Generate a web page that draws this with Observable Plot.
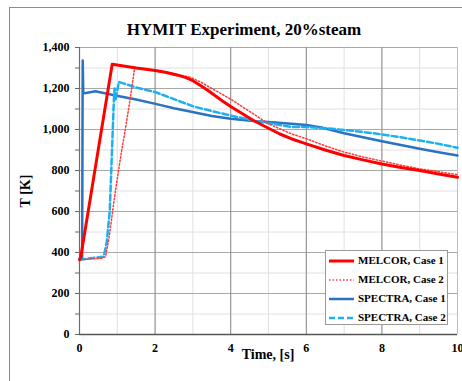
<!DOCTYPE html>
<html>
<head>
<meta charset="utf-8">
<script src="https://cdn.jsdelivr.net/npm/d3@7"></script>
<script src="https://cdn.jsdelivr.net/npm/@observablehq/plot@0.6"></script>
<style>
  html, body { margin: 0; padding: 0; background: #fff; }
  #wrap { position: relative; width: 462px; height: 381px; overflow: hidden; font-family: "Liberation Serif", "Times New Roman", serif; font-weight: bold; color: #000; }
  #frame { position: absolute; left: 9px; top: 7px; width: 470px; height: 400px; border: 1px solid #8c8c8c; box-sizing: border-box; }
  #title { position: absolute; left: 0; width: 488px; top: 20px; text-align: center; font-size: 17px; }
  #xlabel { position: absolute; left: 168px; width: 200px; text-align: center; top: 347px; font-size: 14px; white-space: nowrap; }
  #legend { position: absolute; left: 325px; top: 250px; width: 123px; height: 75px; border: 1px solid #9a9a9a; background: #fff; box-sizing: border-box; }
  .row { position: absolute; left: 3px; height: 14px; font-size: 11px; line-height: 14px; white-space: nowrap; }
  .row svg { vertical-align: middle; margin-right: 4px; }
  #plot { position: absolute; left: 0; top: 0; }
</style>
</head>
<body>
<div id="wrap">
  <div id="frame"></div>
  <div id="plot"></div>
  <div id="title">HYMIT Experiment, 20%steam</div>
  <div id="xlabel">Time, [s]</div>
  <div id="legend"></div>
</div>
<script>
// Tick values
const xTicks = [0, 2, 4, 6, 8, 10];
const xMinor = [0, 1, 2, 3, 4, 5, 6, 7, 8, 9, 10];
const yTicks = [0, 200, 400, 600, 800, 1000, 1200, 1400];
const yMinor = [0, 100, 200, 300, 400, 500, 600, 700, 800, 900, 1000, 1100, 1200, 1300, 1400];

// Series names
const seriesNames = ["MELCOR, Case 1", "MELCOR, Case 2", "SPECTRA, Case 1", "SPECTRA, Case 2"];

// MELCOR, Case 1
const melcor1Time = [0, 0.03, 0.865, 1.5, 2.0, 2.3, 2.6, 2.8, 3.0, 3.2, 3.4, 3.6, 3.8, 4.0, 4.3, 4.6, 5.0, 5.3, 5.6, 6.0, 6.5, 7.0, 7.5, 8.0, 8.5, 9.0, 9.5, 10];
const melcor1Temp = [365, 375, 1318, 1300, 1288, 1278, 1265, 1254, 1238, 1215, 1190, 1163, 1137, 1112, 1078, 1044, 1006, 978, 955, 930, 900, 873, 852, 832, 815, 800, 783, 767];

// MELCOR, Case 2
const melcor2Time = [0, 0.3, 0.6, 0.69, 0.78, 0.95, 1.1, 1.22, 1.35, 1.46, 2.0, 2.5, 2.93, 3.2, 3.5, 4.0, 4.6, 5.0, 5.6, 6.0, 6.5, 7.0, 7.5, 8.0, 8.5, 9.0, 9.5, 10];
const melcor2Temp = [365, 368, 372, 380, 470, 700, 880, 1010, 1160, 1304, 1290, 1272, 1255, 1232, 1200, 1148, 1076, 1028, 979, 955, 920, 890, 866, 846, 826, 808, 794, 780];

// SPECTRA, Case 1
const spectra1Time = [0, 0.07, 0.085, 0.1, 0.14, 0.42, 0.95, 1.5, 2.01, 2.5, 3.02, 3.5, 4.0, 4.6, 5.0, 5.6, 6.0, 6.4, 7.0, 7.5, 8.0, 8.5, 9.0, 9.5, 10];
const spectra1Temp = [368, 370, 1337, 1180, 1177, 1187, 1166, 1146, 1125, 1104, 1084, 1066, 1052, 1041, 1036, 1028, 1022, 1010, 982, 962, 943, 924, 906, 889, 873];

// SPECTRA, Case 2
const spectra2Time = [0, 0.3, 0.64, 0.72, 0.8, 0.86, 0.91, 0.93, 0.95, 1.0, 1.04, 1.5, 2.01, 2.5, 3.02, 3.5, 4.0, 4.6, 5.0, 5.6, 6.0, 6.5, 7.0, 7.5, 8.0, 8.5, 9.0, 9.5, 10];
const spectra2Temp = [365, 372, 380, 450, 600, 898, 1150, 1200, 1140, 1190, 1232, 1205, 1182, 1148, 1112, 1090, 1068, 1044, 1031, 1012, 1012, 1006, 998, 988, 976, 962, 946, 930, 911];

const styles = [
  {stroke: "#ff0000", strokeWidth: 3, dash: null},
  {stroke: "#ff3a3a", strokeWidth: 1.5, dash: "1.5,2"},
  {stroke: "#2a72c2", strokeWidth: 2.5, dash: null},
  {stroke: "#1cb0ef", strokeWidth: 2.5, dash: "6,3"}
];

const series = [
  [melcor1Time, melcor1Temp],
  [melcor2Time, melcor2Temp],
  [spectra1Time, spectra1Temp],
  [spectra2Time, spectra2Temp]
];

function lineMark(k) {
  const [t, T] = series[k];
  const s = styles[k];
  return Plot.line(t.map((x, i) => ({x, y: T[i]})), {
    x: "x", y: "y", stroke: s.stroke, strokeWidth: s.strokeWidth,
    strokeDasharray: s.dash, curve: "linear", strokeLinejoin: "round"
  });
}

const chart = Plot.plot({
  width: 462,
  height: 381,
  marginLeft: 79,
  marginRight: 5,
  marginTop: 47,
  marginBottom: 47,
  style: {fontFamily: '"Liberation Serif", "Times New Roman", serif', fontWeight: "bold", fontSize: "12px", background: "transparent", overflow: "visible"},
  x: {domain: [0, 10]},
  y: {domain: [0, 1400]},
  marks: [
    Plot.gridY(yMinor, {stroke: "#e0e0e0", strokeOpacity: 1}),
    Plot.gridX(xMinor, {stroke: "#e0e0e0", strokeOpacity: 1}),
    Plot.gridY(yTicks, {stroke: "#a8a8a8", strokeOpacity: 1}),
    Plot.gridX(xTicks, {stroke: "#8a8a8a", strokeOpacity: 1}),
    Plot.ruleX([10], {stroke: "#bdbdbd"}),
    Plot.axisY(yMinor, {tickSize: 4, tickFormat: () => "", stroke: "#666", label: null}),
    Plot.axisY(yTicks, {tickSize: 4, tickPadding: 6, tickFormat: d3.format(","), stroke: "#666",
      label: "T [K]", labelAnchor: "center", labelOffset: 59, labelArrow: "none", fontSize: 12}),
    Plot.axisX(xTicks, {tickSize: 0, tickPadding: 9, tickFormat: d3.format("d"), label: null, fontSize: 12}),
    Plot.ruleX([0], {stroke: "#6e6e6e", strokeWidth: 1.2}),
    Plot.ruleY([0], {stroke: "#555", strokeWidth: 1.4}),
    lineMark(2),
    lineMark(3),
    lineMark(1),
    lineMark(0)
  ]
});
document.getElementById("plot").appendChild(chart);

// enlarge y-axis label
chart.querySelectorAll("text").forEach(t => {
  if (t.textContent === "T [K]") t.style.fontSize = "14px";
});

// Legend
const legend = document.getElementById("legend");
seriesNames.forEach((name, k) => {
  const s = styles[k];
  const row = document.createElement("div");
  row.className = "row";
  row.style.top = (2 + k * 19) + "px";
  row.innerHTML = `<svg width="25" height="6"><line x1="0" y1="3" x2="25" y2="3" stroke="${s.stroke}" stroke-width="${k === 0 ? 3 : (k === 1 ? 1.5 : 2.5)}" ${s.dash ? `stroke-dasharray="${s.dash}"` : ""}/></svg>${name}`;
  legend.appendChild(row);
});
</script>
</body>
</html>
